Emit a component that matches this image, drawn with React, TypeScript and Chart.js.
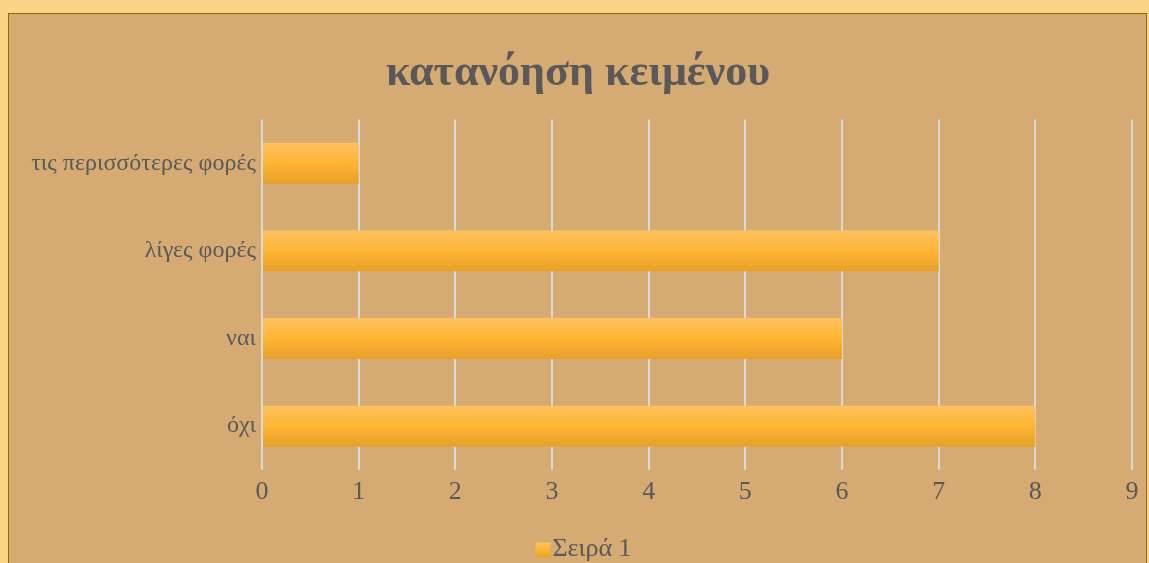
import React, { useEffect, useRef } from "react";
import { Chart, registerables } from "chart.js";

Chart.register(...registerables);

const categories = ["όχι", "ναι", "λίγες φορές", "τις περισσότερες φορές"];
const seriesValues = [8, 6, 7, 1];
const seriesName = "Σειρά 1";
const chartTitle = "κατανόηση κειμένου";

const FONT = "'Liberation Serif', 'Times New Roman', serif";
const TEXT = "#595959";
const LEGEND_FONT = 26;
const LEGEND_PAD = 10;

function barGradient(ctx: CanvasRenderingContext2D, top: number, bottom: number) {
  const g = ctx.createLinearGradient(0, top, 0, bottom);
  g.addColorStop(0, "#FEC262");
  g.addColorStop(0.5, "#FFB432");
  g.addColorStop(1, "#E6A02A");
  return g;
}

const gradientPlugin = {
  id: "barGradient",
  afterLayout(chart: any) {
    // legend and title sit slightly right of the canvas centre
    if (chart.legend) chart.legend.left = 30;
    if (chart.titleBlock) chart.titleBlock.left = 15;
  },
  beforeDatasetsDraw(chart: any) {
    const ctx = chart.ctx;
    chart.getSortedVisibleDatasetMetas().forEach((meta: any) => {
      meta.data.forEach((el: any) => {
        const top = el.y - el.height / 2;
        const bottom = el.y + el.height / 2;
        el.options = Object.assign({}, el.options, {
          backgroundColor: barGradient(ctx, top, bottom),
        });
      });
    });
  },
  afterDraw(chart: any) {
    const lg = chart.legend;
    if (!lg) return;
    const ctx = chart.ctx;
    ctx.save();
    ctx.font = `${LEGEND_FONT}px ${FONT}`;
    const tw = ctx.measureText(seriesName).width;
    const itemWidth = LEGEND_FONT / 2 + tw;
    const textX = (lg.left + lg.right - itemWidth) / 2 + LEGEND_FONT / 2;
    const cy = lg.top + LEGEND_PAD + LEGEND_FONT / 2 + 1;
    const size = 15;
    ctx.fillStyle = barGradient(ctx, cy - size / 2, cy + size / 2);
    ctx.fillRect(textX - 2 - size, cy - size / 2, size, size);
    ctx.restore();
  },
};

export default function App() {
  const ref = useRef<HTMLCanvasElement>(null);
  useEffect(() => {
    const canvas = ref.current!;
    const chart = new Chart(canvas, {
      type: "bar",
      data: {
        labels: categories,
        datasets: [
          {
            label: seriesName,
            data: seriesValues,
            backgroundColor: "#FDB53A",
            borderWidth: 0,
            barPercentage: 0.467,
            categoryPercentage: 1,
          },
        ],
      },
      options: {
        indexAxis: "y",
        responsive: false,
        animation: false,
        layout: { padding: { left: 0, right: 14, top: 0, bottom: 0 } },
        scales: {
          x: {
            min: 0,
            max: 9,
            ticks: {
              stepSize: 1,
              color: TEXT,
              font: { family: FONT, size: 26 },
              padding: 7,
            },
            grid: { color: "#D9D9D9", lineWidth: 2, drawTicks: false },
            border: { display: false },
            afterFit: (s: any) => {
              s.height = 56;
            },
          },
          y: {
            reverse: true,
            ticks: {
              color: TEXT,
              font: { family: FONT, size: 24 },
              padding: 6,
            },
            grid: { display: false, drawTicks: false },
            border: { display: false },
            afterFit: (s: any) => {
              s.width = 253;
            },
          },
        },
        plugins: {
          title: {
            display: true,
            text: chartTitle,
            color: TEXT,
            font: { family: FONT, size: 44, weight: "bold" },
            padding: { top: 33, bottom: 19.6 },
          },
          legend: {
            position: "bottom",
            labels: {
              color: TEXT,
              font: { family: FONT, size: LEGEND_FONT },
              boxWidth: 0,
              boxHeight: 15,
              padding: LEGEND_PAD,
              generateLabels: () => [
                {
                  text: seriesName,
                  fillStyle: "rgba(0,0,0,0)",
                  strokeStyle: "rgba(0,0,0,0)",
                  lineWidth: 0,
                  hidden: false,
                  datasetIndex: 0,
                  fontColor: TEXT,
                },
              ],
            },
          },
          tooltip: { enabled: false },
        },
      },
      plugins: [gradientPlugin],
    } as any);
    return () => chart.destroy();
  }, []);

  return (
    <div
      style={{
        position: "fixed",
        inset: 0,
        background: "#FAD386",
        overflow: "hidden",
      }}
    >
      <div
        style={{
          position: "absolute",
          left: 8,
          top: 13,
          width: 1139,
          height: 600,
          boxSizing: "border-box",
          border: "1px solid #9B6400",
          background: "#D6AA73",
        }}
      >
        <canvas
          ref={ref}
          width={1137}
          height={558}
          style={{ position: "absolute", left: 0, top: 0, width: 1137, height: 558 }}
        />
      </div>
    </div>
  );
}
